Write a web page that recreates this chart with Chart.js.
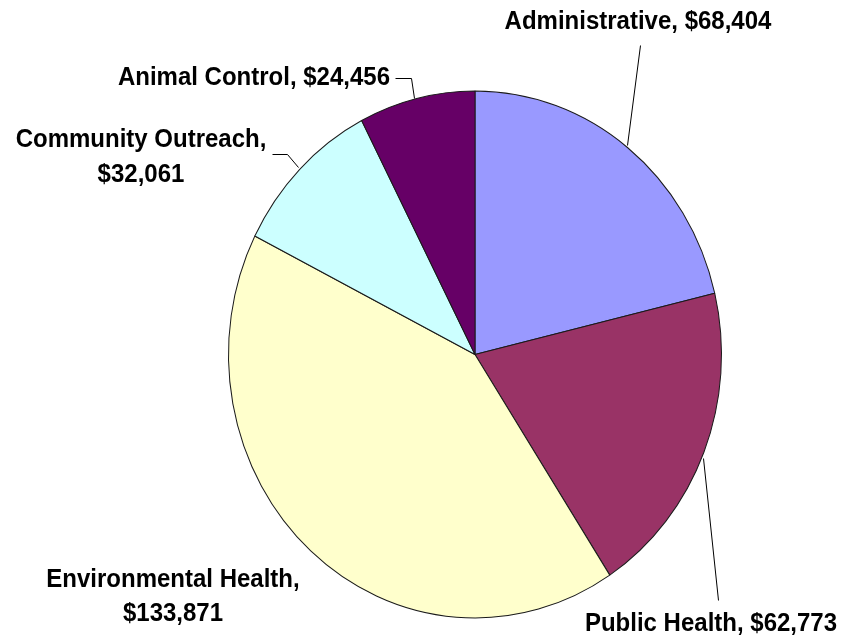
<!DOCTYPE html>
<html>
<head>
<meta charset="utf-8">
<script src="https://cdn.jsdelivr.net/npm/chart.js@4"></script>
<style>
  html, body { margin: 0; padding: 0; background: #ffffff; }
  #wrap { width: 850px; height: 641px; position: relative; }
</style>
</head>
<body>
<div id="wrap"><canvas id="c" width="850" height="641"></canvas></div>
<script>
// ---- data ----
const categories = ["Administrative", "Public Health", "Environmental Health", "Community Outreach", "Animal Control"];
const values = [68404, 62773, 133871, 32061, 24456];
const sliceColors = ["#9999FF", "#993366", "#FFFFCC", "#CCFFFF", "#660066"];

// ---- label layout (positions only) ----
// lines: whether the value goes on a second line; align; anchor x; middle y of first line
const labelLayout = [
  { twoLines: false, align: "center", x: 638, y: 22, leader: [[640, 45], [627, 145]] },
  { twoLines: false, align: "center", x: 711, y: 624, leader: [[718, 600], [703, 458]] },
  { twoLines: true,  align: "center", x: 173, y: 580, gap: 34, leader: null },
  { twoLines: true,  align: "center", x: 141, y: 140, gap: 35, leader: [[272, 154], [287, 154], [298, 167]] },
  { twoLines: false, align: "right",  x: 390, y: 78, leader: [[395, 78], [411, 78], [414, 98]] }
];

const fmt = v => "$" + v.toLocaleString("en-US");

const CX = 475, CY = 354.5, YSCALE = 264 / 247;

const ellipsePlugin = {
  id: "ellipse",
  beforeDatasetsDraw(chart) {
    const ctx = chart.ctx;
    ctx.save();
    ctx.translate(CX, CY);
    ctx.scale(1, YSCALE);
    ctx.translate(-CX, -CY);
  },
  afterDatasetsDraw(chart) {
    chart.ctx.restore();
  }
};

const labelPlugin = {
  id: "labels",
  afterDraw(chart) {
    const ctx = chart.ctx;
    ctx.save();
    ctx.font = "bold 24px 'Liberation Sans', Arial, sans-serif";
    ctx.fillStyle = "#000000";
    ctx.textBaseline = "middle";
    categories.forEach((cat, i) => {
      const L = labelLayout[i];
      const lines = L.twoLines ? [cat + ",", fmt(values[i])] : [cat + ", " + fmt(values[i])];
      ctx.textAlign = L.align;
      lines.forEach((t, j) => {
        const y = L.y + j * (L.gap || 0);
        ctx.save();
        ctx.translate(L.x, y);
        ctx.scale(1, 1.08);
        ctx.fillText(t, 0, 0);
        ctx.restore();
      });
      if (L.leader) {
        ctx.beginPath();
        ctx.strokeStyle = "#000000";
        ctx.lineWidth = 1;
        L.leader.forEach((p, k) => k === 0 ? ctx.moveTo(p[0] + 0.5, p[1] + 0.5) : ctx.lineTo(p[0] + 0.5, p[1] + 0.5));
        ctx.stroke();
      }
    });
    ctx.restore();
  }
};

new Chart(document.getElementById("c"), {
  type: "pie",
  data: {
    labels: categories,
    datasets: [{
      data: values,
      backgroundColor: sliceColors,
      borderColor: "#1a1a1a",
      borderWidth: 1
    }]
  },
  options: {
    responsive: false,
    animation: false,
    layout: { padding: { left: 228, right: 128, top: 107.5, bottom: 39.5 } },
    plugins: {
      legend: { display: false },
      tooltip: { enabled: false }
    }
  },
  plugins: [ellipsePlugin, labelPlugin]
});
</script>
</body>
</html>
